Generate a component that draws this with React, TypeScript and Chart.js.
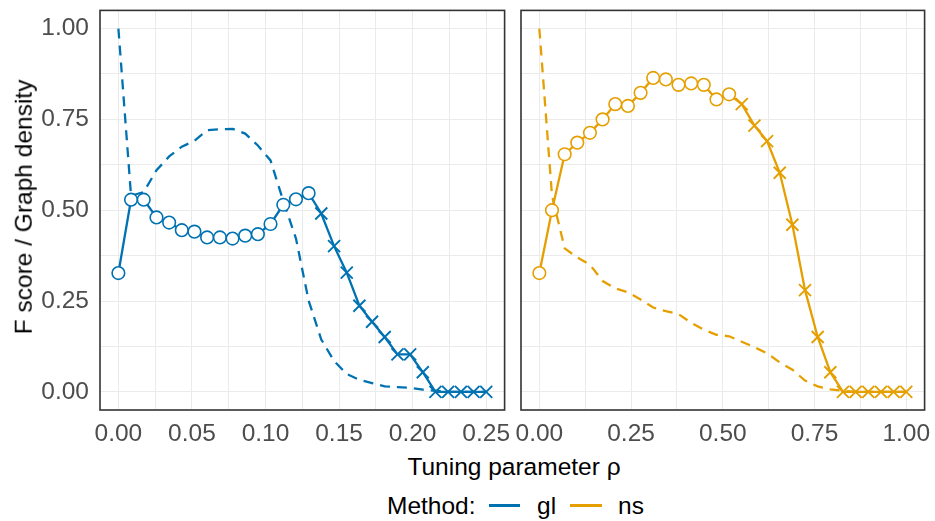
import React, { useEffect, useRef } from "react";
import { Chart, registerables } from "chart.js";

Chart.register(...registerables);

// ---------------- data ----------------
const glRho = [
  0, 0.0086, 0.0172, 0.0259, 0.0345, 0.0431, 0.0517, 0.0603, 0.069, 0.0776,
  0.0862, 0.0948, 0.1034, 0.1121, 0.1207, 0.1293, 0.1379, 0.1466, 0.1552, 0.1638,
  0.1724, 0.181, 0.1897, 0.1983, 0.2069, 0.2155, 0.2241, 0.2328, 0.2414, 0.25,
];
const glFScore = [
  0.327, 0.529, 0.529, 0.48, 0.466, 0.445, 0.441, 0.425, 0.425, 0.422,
  0.43, 0.434, 0.462, 0.515, 0.53, 0.547, 0.491, 0.401, 0.328, 0.237,
  0.193, 0.151, 0.103, 0.103, 0.054, 0, 0, 0, 0, 0,
];
const glDensity = [
  1.0, 0.54, 0.55, 0.61, 0.648, 0.675, 0.691, 0.72, 0.723, 0.724,
  0.711, 0.678, 0.637, 0.525, 0.422, 0.251, 0.144, 0.085, 0.049, 0.033,
  0.024, 0.015, 0.013, 0.011, 0.006, 0.003, 0, 0, 0, 0,
];
const glMarker = [
  "o", "o", "o", "o", "o", "o", "o", "o", "o", "o",
  "o", "o", "o", "o", "o", "o", "x", "x", "x", "x",
  "x", "x", "x", "x", "x", "x", "x", "x", "x", "x",
];

const nsRho = [
  0, 0.0345, 0.069, 0.1034, 0.1379, 0.1724, 0.2069, 0.2414, 0.2759, 0.3103,
  0.3448, 0.3793, 0.4138, 0.4483, 0.4828, 0.5172, 0.5517, 0.5862, 0.6207, 0.6552,
  0.6897, 0.7241, 0.7586, 0.7931, 0.8276, 0.8621, 0.8966, 0.931, 0.9655, 1,
];
const nsFScore = [
  0.327, 0.5, 0.654, 0.686, 0.713, 0.75, 0.792, 0.787, 0.823, 0.864,
  0.86, 0.845, 0.849, 0.845, 0.805, 0.819, 0.792, 0.733, 0.69, 0.603,
  0.46, 0.28, 0.151, 0.054, 0, 0, 0, 0, 0, 0,
];
const nsDensity = [
  1.0, 0.54, 0.395, 0.37, 0.35, 0.305, 0.285, 0.274, 0.254, 0.232,
  0.222, 0.214, 0.19, 0.171, 0.157, 0.153, 0.138, 0.123, 0.106, 0.081,
  0.061, 0.031, 0.015, 0.007, 0.003, 0, 0, 0, 0, 0,
];
const nsMarker = [
  "o", "o", "o", "o", "o", "o", "o", "o", "o", "o",
  "o", "o", "o", "o", "o", "o", "x", "x", "x", "x",
  "x", "x", "x", "x", "x", "x", "x", "x", "x", "x",
];

const yTickValues = [0, 0.25, 0.5, 0.75, 1];
const yMinorGrid = [0.125, 0.375, 0.625, 0.875];
const glXTickValues = [0, 0.05, 0.1, 0.15, 0.2, 0.25];
const glXMinorGrid = [0.025, 0.075, 0.125, 0.175, 0.225];
const nsXTickValues = [0, 0.25, 0.5, 0.75, 1];
const nsXMinorGrid = [0.125, 0.375, 0.625, 0.875];

const methods = ["gl", "ns"];
const methodColors = ["#0072B2", "#E69F00"];

// ---------------- styling ----------------
const FONT = "'Liberation Sans', Arial, Helvetica, sans-serif";
const FS = 24.5;
const TICK_COLOR = "#4D4D4D";
const GRID_COLOR = "#EBEBEB";

const panelBorder = {
  id: "panelBorder",
  afterDraw(chart: any) {
    const { ctx, chartArea: a } = chart;
    ctx.save();
    ctx.strokeStyle = "#333333";
    ctx.lineWidth = 1.6;
    ctx.strokeRect(a.left, a.top, a.right - a.left, a.bottom - a.top);
    ctx.restore();
  },
};

function gridTicks(major: number[], minor: number[]) {
  return [...major, ...minor].sort((a, b) => a - b);
}

function makeConfig(opts: {
  rho: number[];
  f: number[];
  dens: number[];
  marker: string[];
  color: string;
  xMajor: number[];
  xMinor: number[];
  xMin: number;
  xMax: number;
  showY: boolean;
  padding: any;
}) {
  const { rho, f, dens, marker, color } = opts;
  return {
    type: "line",
    data: {
      datasets: [
        {
          data: rho.map((x, i) => ({ x, y: f[i] })),
          borderColor: color,
          borderWidth: 2.3,
          tension: 0,
          pointStyle: marker.map((m) => (m === "o" ? "circle" : "crossRot")),
          pointRadius: marker.map((m) => (m === "o" ? 6.3 : 8.5)),
          pointBackgroundColor: "#FFFFFF",
          pointBorderColor: color,
          pointBorderWidth: marker.map((m) => (m === "o" ? 1.6 : 1.9)),
          pointHoverRadius: 0,
          order: 0,
        },
        {
          data: rho.map((x, i) => ({ x, y: dens[i] })),
          borderColor: color,
          borderWidth: 2.3,
          borderDash: [10, 7],
          tension: 0,
          pointRadius: 0,
          order: 1,
        },
      ],
    },
    options: {
      responsive: false,
      animation: false,
      events: [],
      layout: { padding: opts.padding },
      plugins: { legend: { display: false }, tooltip: { enabled: false } },
      scales: {
        x: {
          type: "linear",
          min: opts.xMin,
          max: opts.xMax,
          afterBuildTicks(scale: any) {
            scale.ticks = gridTicks(opts.xMajor, opts.xMinor).map((v) => ({ value: v }));
          },
          afterFit(scale: any) {
            scale.height = 40;
            scale.paddingLeft = 0;
            scale.paddingRight = 0;
          },
          ticks: {
            autoSkip: false,
            maxRotation: 0,
            minRotation: 0,
            padding: 10,
            color: TICK_COLOR,
            font: { family: FONT, size: FS },
            callback: (v: number) => (opts.xMajor.includes(v) ? v.toFixed(2) : ""),
          },
          grid: { color: GRID_COLOR, lineWidth: 1, drawTicks: false },
          border: { display: false },
        },
        y: {
          type: "linear",
          min: -0.05,
          max: 1.05,
          afterBuildTicks(scale: any) {
            scale.ticks = gridTicks(yTickValues, yMinorGrid).map((v) => ({ value: v }));
          },
          afterFit(scale: any) {
            scale.width = opts.showY ? 100 : 0;
            scale.paddingTop = 0;
            scale.paddingBottom = 0;
          },
          ticks: {
            display: opts.showY,
            autoSkip: false,
            padding: 11,
            color: TICK_COLOR,
            font: { family: FONT, size: FS },
            callback: (v: number) => (yTickValues.includes(v) ? v.toFixed(2) : ""),
          },
          grid: { color: GRID_COLOR, lineWidth: 1, drawTicks: false },
          border: { display: false },
        },
      },
    },
    plugins: [panelBorder],
  } as any;
}

export default function App() {
  const leftRef = useRef<HTMLCanvasElement | null>(null);
  const rightRef = useRef<HTMLCanvasElement | null>(null);

  useEffect(() => {
    const left = new Chart(
      leftRef.current as HTMLCanvasElement,
      makeConfig({
        rho: glRho,
        f: glFScore,
        dens: glDensity,
        marker: glMarker,
        color: methodColors[0],
        xMajor: glXTickValues,
        xMinor: glXMinorGrid,
        xMin: -0.0125,
        xMax: 0.2625,
        showY: true,
        padding: { top: 4, right: 8, left: 0, bottom: 0 },
      })
    );
    const right = new Chart(
      rightRef.current as HTMLCanvasElement,
      makeConfig({
        rho: nsRho,
        f: nsFScore,
        dens: nsDensity,
        marker: nsMarker,
        color: methodColors[1],
        xMajor: nsXTickValues,
        xMinor: nsXMinorGrid,
        xMin: -0.05,
        xMax: 1.05,
        showY: false,
        padding: { top: 4, right: 7, left: 11, bottom: 0 },
      })
    );
    return () => {
      left.destroy();
      right.destroy();
    };
  }, []);

  const text: React.CSSProperties = {
    position: "absolute",
    fontFamily: FONT,
    fontSize: FS,
    lineHeight: 1,
    whiteSpace: "nowrap",
    color: "#000000",
  };

  return (
    <div
      style={{
        position: "fixed",
        left: 0,
        top: 0,
        width: 935,
        height: 521,
        background: "#FFFFFF",
        overflow: "hidden",
      }}
    >
      <canvas
        ref={leftRef}
        width={515}
        height={450}
        style={{ position: "absolute", left: 0, top: 0, width: 515, height: 450 }}
      />
      <canvas
        ref={rightRef}
        width={425}
        height={450}
        style={{ position: "absolute", left: 510, top: 0, width: 425, height: 450 }}
      />
      <div
        style={{
          ...text,
          left: 24,
          top: 207,
          transform: "translate(-50%, -50%) rotate(-90deg)",
        }}
      >
        F score / Graph density
      </div>
      <div style={{ ...text, left: 514, top: 467, transform: "translate(-50%, -50%)" }}>
        Tuning parameter ρ
      </div>
      <div style={{ ...text, left: 387, top: 506, transform: "translateY(-50%)" }}>Method:</div>
      <div
        style={{
          position: "absolute",
          left: 489,
          top: 504,
          width: 31,
          height: 2.5,
          background: methodColors[0],
        }}
      />
      <div style={{ ...text, left: 537, top: 506, transform: "translateY(-50%)" }}>{methods[0]}</div>
      <div
        style={{
          position: "absolute",
          left: 570,
          top: 504,
          width: 32,
          height: 2.5,
          background: methodColors[1],
        }}
      />
      <div style={{ ...text, left: 618, top: 506, transform: "translateY(-50%)" }}>{methods[1]}</div>
    </div>
  );
}
